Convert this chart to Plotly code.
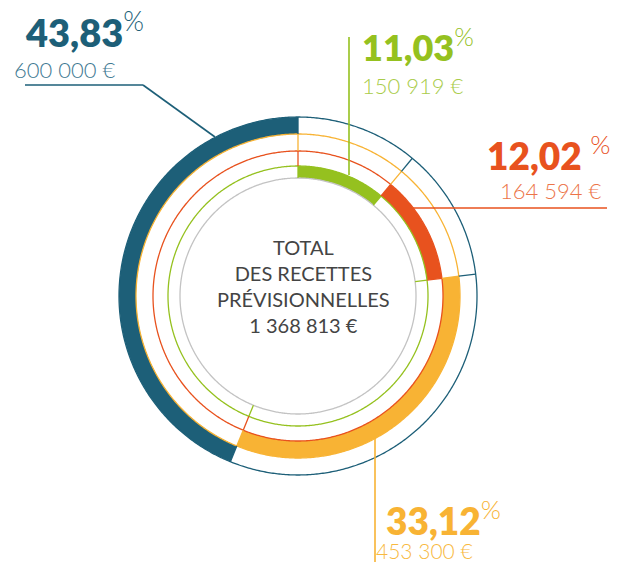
import plotly.graph_objects as go

# Données
labels = ['Part A', 'Part B', 'Part C', 'Part D']
values = [150919, 164594, 453300, 600000]
pct_labels = ['11,03', '12,02 ', '33,12', '43,83']
amount_labels = ['150 919 €', '164 594 €', '453 300 €', '600 000 €']
total_label = '1 368 813 €'
center_lines = ['TOTAL', 'DES RECETTES', 'PRÉVISIONNELLES', total_label]

COLORS = ['#95c11f', '#e8521e', '#f8b334', '#1d5f78']
AMOUNT_COLORS = ['#a9cc4a', '#ec7448', '#f8b940', '#3f7a93']
GREY = '#c3c3c3'
FONT = 'Lato'

W, H = 623, 562
# anneaux (de l'intérieur vers l'extérieur), en pixels
RING_IN = [118, 130, 145, 162]
RING_OUT = [130, 145, 162, 179]
R_MAX = 182
CX, CY = 298, 296


def px(x):
    return x / W


def py(y):
    return 1 - y / H


total = sum(values)
spans = [v / total * 360 for v in values]
starts = [sum(spans[:i]) for i in range(len(spans))]
bounds = starts[:]  # limites des segments

fig = go.Figure()

# segments pleins
for i, v in enumerate(values):
    fig.add_trace(go.Barpolar(
        r=[RING_OUT[i] - RING_IN[i]], base=[RING_IN[i]],
        theta=[starts[i] + spans[i] / 2], width=[spans[i]],
        marker=dict(color=COLORS[i], line=dict(width=0)),
        name=labels[i], showlegend=False, hoverinfo='skip',
    ))

# cercles fins + séparations radiales
circle_t = [k * 0.5 for k in range(721)]
fig.add_trace(go.Scatterpolar(r=[RING_IN[0]] * len(circle_t), theta=circle_t, mode='lines',
                              line=dict(color=GREY, width=1.3), showlegend=False, hoverinfo='skip'))
for i in range(len(values)):
    fig.add_trace(go.Scatterpolar(r=[RING_OUT[i]] * len(circle_t), theta=circle_t, mode='lines',
                                  line=dict(color=COLORS[i], width=1.3), showlegend=False,
                                  hoverinfo='skip'))
    rr, tt = [], []
    for b in bounds:
        rr += [RING_IN[i], RING_OUT[i], None]
        tt += [b, b, None]
    fig.add_trace(go.Scatterpolar(r=rr, theta=tt, mode='lines',
                                  line=dict(color=COLORS[i], width=1.3), showlegend=False,
                                  hoverinfo='skip'))

# lignes de rappel
leaders = [
    [(349, 37), (349, 175)],
    [(413, 208), (607, 208)],
    [(375, 436), (375, 562)],
    [(25, 85), (143, 85), (215, 137)],
]
for i, pts in enumerate(leaders):
    for (x0, y0), (x1, y1) in zip(pts[:-1], pts[1:]):
        fig.add_shape(type='line', xref='paper', yref='paper',
                      x0=px(x0), y0=py(y0), x1=px(x1), y1=py(y1),
                      line=dict(color=COLORS[i], width=1.6))

# étiquettes : (x pct, y pct, ancrage, taille, x montant, y montant, taille montant)
pos = [
    (360, 45, 'left', 36, 360, 85, 22),
    (612, 153, 'right', 37, 604, 191, 22),
    (384, 518, 'left', 37, 374, 550, 21),
    (23, 30, 'left', 38, 12, 69, 22),
]
for i in range(len(values)):
    xp, yp, anc, size, xa, ya, asize = pos[i]
    txt = (pct_labels[i] + "<sup><span style='font-weight:300'>%</span></sup>")
    fig.add_annotation(x=px(xp), y=py(yp), xref='paper', yref='paper', xanchor=anc,
                       yanchor='middle', showarrow=False, text=txt,
                       font=dict(family=FONT, size=size, color=COLORS[i], weight=800))
    fig.add_annotation(x=px(xa), y=py(ya), xref='paper', yref='paper',
                       xanchor='right' if anc == 'right' else 'left',
                       yanchor='middle', showarrow=False, text=amount_labels[i],
                       font=dict(family=FONT, size=asize, color=AMOUNT_COLORS[i], weight=300))

fig.add_annotation(x=px(303), y=py(286), xref='paper', yref='paper', showarrow=False,
                   text='<br>'.join(center_lines), align='center',
                   font=dict(family=FONT, size=20, color='#444444'))

fig.update_layout(
    width=W, height=H,
    margin=dict(l=0, r=0, t=0, b=0),
    paper_bgcolor='white', plot_bgcolor='white',
    polar=dict(
        domain=dict(x=[px(CX - R_MAX), px(CX + R_MAX)], y=[py(CY + R_MAX), py(CY - R_MAX)]),
        bgcolor='white', hole=0,
        radialaxis=dict(visible=False, range=[0, R_MAX]),
        angularaxis=dict(visible=False, rotation=90, direction='clockwise'),
    ),
    showlegend=False,
)

fig.write_html('out.html', config={'displayModeBar': False},
               post_script="document.body.style.margin='0';")
